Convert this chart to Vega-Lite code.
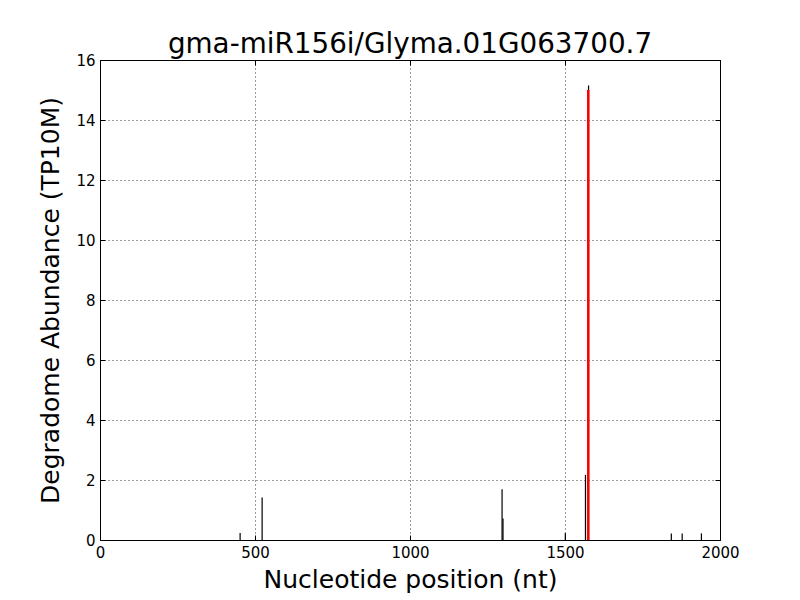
{
  "$schema": "https://vega.github.io/schema/vega-lite/v6.json",
  "width": 620,
  "height": 480,
  "autosize": {"type": "none"},
  "padding": {"left": 100, "top": 60, "right": 80, "bottom": 60},
  "background": "white",
  "title": {"text": "gma-miR156i/Glyma.01G063700.7", "font": "DejaVu Sans", "fontSize": 27.8, "fontWeight": "normal", "color": "black", "offset": -6},
  "config": {
    "view": {"stroke": "black", "strokeWidth": 1},
    "axis": {"labelFont": "DejaVu Sans", "titleFont": "DejaVu Sans", "labelFontSize": 15, "titleFontSize": 25, "titleFontWeight": "normal", "labelColor": "black", "titleColor": "black", "domain": false, "tickColor": "black", "tickSize": -5, "labelPadding": 10, "labelFlush": false, "labelOverlap": false, "format": "d", "grid": true, "gridColor": "black", "gridOpacity": 1, "gridDash": [1, 3], "gridWidth": 0.8}
  },
  "datasets": {
    "reads": [
      {"pos": 452, "abundance": 0.23},
      {"pos": 523, "abundance": 1.42},
      {"pos": 1297, "abundance": 1.69},
      {"pos": 1300, "abundance": 0.72},
      {"pos": 1501, "abundance": 0.23},
      {"pos": 1566, "abundance": 2.17},
      {"pos": 1576, "abundance": 15.15},
      {"pos": 1843, "abundance": 0.22},
      {"pos": 1878, "abundance": 0.22},
      {"pos": 1940, "abundance": 0.22}
    ],
    "target": [
      {"pos": 1575, "abundance": 15}
    ]
  },
  "layer": [
    {
      "data": {"name": "reads"},
      "mark": {"type": "rule", "color": "black", "strokeWidth": 1.2},
      "encoding": {
        "x": {"field": "pos", "type": "quantitative", "scale": {"domain": [0, 2000], "nice": false}, "axis": {"title": "Nucleotide position (nt)", "values": [0, 500, 1000, 1500, 2000], "titlePadding": 7}},
        "y": {"field": "abundance", "type": "quantitative", "scale": {"domain": [0, 16], "nice": false}, "axis": {"title": "Degradome Abundance (TP10M)", "values": [0, 2, 4, 6, 8, 10, 12, 14, 16], "titlePadding": 12}},
        "y2": {"datum": 0}
      }
    },
    {
      "data": {"name": "target"},
      "mark": {"type": "rule", "color": "red", "strokeWidth": 2.5},
      "encoding": {
        "x": {"field": "pos", "type": "quantitative", "axis": {"orient": "top", "labels": false, "title": null, "grid": false, "values": [0, 500, 1000, 1500, 2000]}},
        "y": {"field": "abundance", "type": "quantitative", "axis": {"orient": "right", "labels": false, "title": null, "grid": false, "values": [0, 2, 4, 6, 8, 10, 12, 14, 16]}},
        "y2": {"datum": 0}
      }
    }
  ],
  "resolve": {"axis": {"x": "independent", "y": "independent"}}
}
